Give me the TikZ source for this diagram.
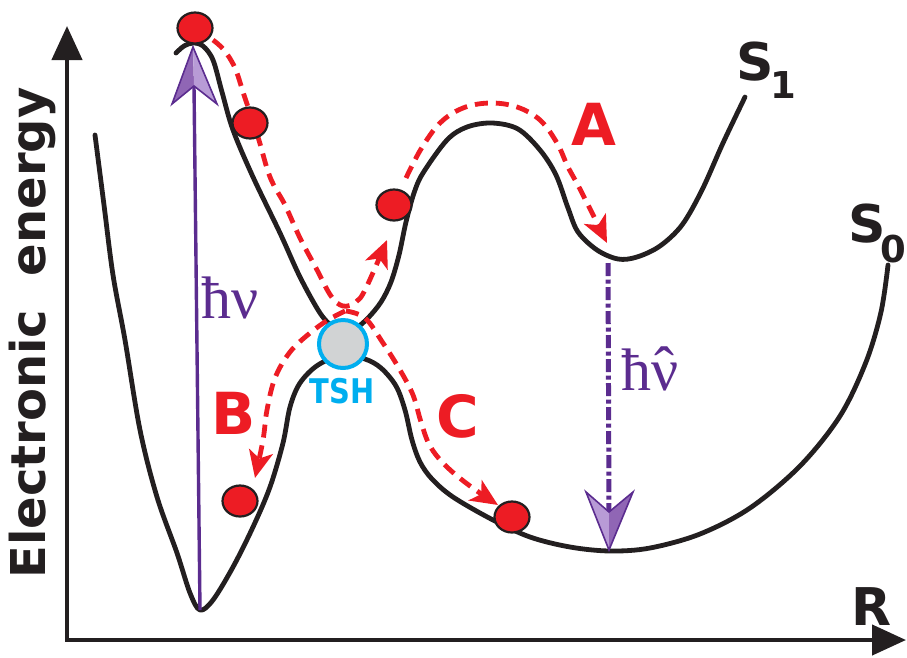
\documentclass[tikz,border=0pt]{standalone}
\usepackage{fontspec}
\usetikzlibrary{arrows.meta,shapes.geometric}
\newfontfamily\labfont{DejaVu Sans}
\newfontfamily\serfont{Liberation Serif}
\definecolor{pred}{HTML}{ED1C24}
\definecolor{ppl}{HTML}{5B2C8F}
\definecolor{pdark}{HTML}{9066B5}
\definecolor{plight}{HTML}{B89BD6}
\definecolor{tcyan}{HTML}{00AEEF}
\definecolor{curvek}{HTML}{231F20}
\definecolor{tshgray}{HTML}{D1D3D4}
\newcommand{\subfnt}{\fontsize{37}{37}\selectfont}
\tikzset{
  pes/.style={draw=curvek,line width=4.8pt,line cap=round,line join=round},
  axisline/.style={draw=curvek,line width=4.4pt},
  ball/.style={ellipse,draw=curvek,line width=2.2pt,fill=pred,minimum width=35pt,minimum height=31pt,inner sep=0pt},
  reddash/.style={draw=pred,line width=4.8pt,dash pattern=on 13pt off 8pt,-{Stealth[length=27pt,width=24pt,inset=7pt]}},
  biglab/.style={font=\labfont\bfseries\fontsize{52}{52}\selectfont,text=curvek,inner sep=0pt},
  pathlab/.style={font=\labfont\bfseries\fontsize{58}{58}\selectfont,text=pred,inner sep=0pt},
  hnulab/.style={font=\serfont\fontsize{60}{60}\selectfont,text=ppl,inner sep=0pt}
}
\begin{document}
\begin{tikzpicture}[x=1pt,y=-1pt]
\useasboundingbox (0,0) rectangle (907,657);
% axes
\coordinate (ytop) at (67,26);
\coordinate (orig) at (67,640);
\coordinate (xend) at (906,640);
\draw[axisline,{Triangle[length=34pt,width=30pt]}-{Triangle[length=34pt,width=30pt]}] (ytop) -- (orig) -- (xend);
\node[rotate=90,font=\labfont\bfseries\fontsize{48}{48}\selectfont,text=curvek,inner sep=0pt] (ylab) at (32,333) {Electronic\ \ energy};
\node[biglab,anchor=base west] (Rlab) at (851,625) {R};
% S1 curve
\draw[pes] plot[smooth,tension=0.55] coordinates {(176,53) (184,46) (193,43) (203,46) (213,60) (222,92) (233,130) (253,177) (280,233) (300,277) (320,313) (333,327) (343,332) (356,328) (368,318) (381,302) (391,282) (399,255) (406,222) (414,193) (423,173) (447,140) (467,127) (492,123) (518,129) (540,150) (556,175) (568,208) (578,232) (597,250) (618,259) (637,257) (660,246) (682,225) (702,190) (723,143) (745,97)};
% S0 curve
\draw[pes] plot[smooth,tension=0.55] coordinates {(95,135) (104,205) (113,275) (125,340) (140,430) (157,497) (177,553) (190,593) (200,610) (213,600) (233,567) (253,527) (270,487) (283,443) (290,407) (300,383) (318,365) (343,355) (365,359) (381,368) (396,386) (405,410) (412,440) (420,462) (432,479) (453,497) (493,520) (530,537) (570,547) (610,551) (650,548) (700,534) (750,508) (800,466) (840,416) (866,362) (881,312) (888,265)};
% labels S1, S0
\node[biglab,anchor=base west] (S1) at (736,80) {S\kern-3pt\raisebox{-18pt}{\subfnt 1}};
\node[biglab,anchor=base west] (S0) at (848,242) {S\kern-5pt\raisebox{-20pt}{\subfnt 0}};
% TSH
\node[circle,draw=tcyan,fill=tshgray,line width=4pt,minimum size=48pt,inner sep=0pt] (tsh) at (343,344) {};
\node[font=\labfont\bfseries\fontsize{34}{34}\selectfont,text=tcyan,inner sep=0pt,xscale=0.85] (tshlab) at (342,391) {TSH};
% absorption arrow
\coordinate (absbot) at (200,610);
\coordinate (absnotch) at (194,86);
\draw[ppl,line width=3.4pt] (absbot) -- (absnotch);
\coordinate (ut) at (193,47);
\coordinate (ul) at (172,104);
\coordinate (ur) at (217,104);
\fill[pdark] (ut) -- (ul) -- (absnotch) -- cycle;
\fill[plight] (ut) -- (absnotch) -- (ur) -- cycle;
\draw[ppl,line width=1.6pt,line join=miter] (ut) -- (ul) -- (absnotch) -- (ur) -- cycle;
\node[hnulab,anchor=base west] (hnu) at (201,318) {ħν};
% emission arrow
\coordinate (emtop) at (608,263);
\coordinate (emnotch) at (609,512);
\draw[ppl,line width=5pt,dash pattern=on 13pt off 3.5pt on 4pt off 3.5pt] (emtop) -- (emnotch);
\coordinate (dt) at (609,550);
\coordinate (dl) at (586,492);
\coordinate (dr) at (633,492);
\fill[plight] (dt) -- (dl) -- (emnotch) -- cycle;
\fill[pdark] (dt) -- (emnotch) -- (dr) -- cycle;
\draw[ppl,line width=1.6pt,line join=miter] (dt) -- (dl) -- (emnotch) -- (dr) -- cycle;
\node[hnulab,anchor=base west] (hnuh) at (621,390) {ħ\ooalign{ν\cr\hfil\raisebox{0.02em}{ˆ}\hfil\cr}};
% red dashed paths
\draw[reddash] plot[smooth,tension=0.6] coordinates {(213,40) (224,50) (235,68) (244,95) (258,137) (270,177) (285,205) (300,238) (316,268) (331,296) (343,306) (356,302) (366,288) (387,240)};
\draw[reddash] plot[smooth,tension=0.6] coordinates {(406,178) (421,149) (440,123) (463,108) (490,103) (517,107) (540,120) (557,143) (568,167) (581,191) (607,243)};
\draw[reddash] plot[smooth,tension=0.6] coordinates {(345,311) (328,320) (310,333) (290,352) (275,378) (267,410) (263,440) (255,478)};
\draw[reddash] plot[smooth,tension=0.6] coordinates {(346,311) (365,318) (383,343) (400,370) (413,395) (421,422) (430,446) (446,466) (470,486) (498,505)};
% balls
\node[ball] (b1) at (195,28) {};
\node[ball] (b2) at (250,123) {};
\node[ball] (b3) at (394,205) {};
\node[ball] (b4) at (240,501) {};
\node[ball] (b5) at (512,517) {};
% path labels
\node[pathlab] (A) at (594,124) {A};
\node[pathlab] (B) at (234,413) {B};
\node[pathlab] (C) at (458,416) {C};
\end{tikzpicture}
\end{document}
